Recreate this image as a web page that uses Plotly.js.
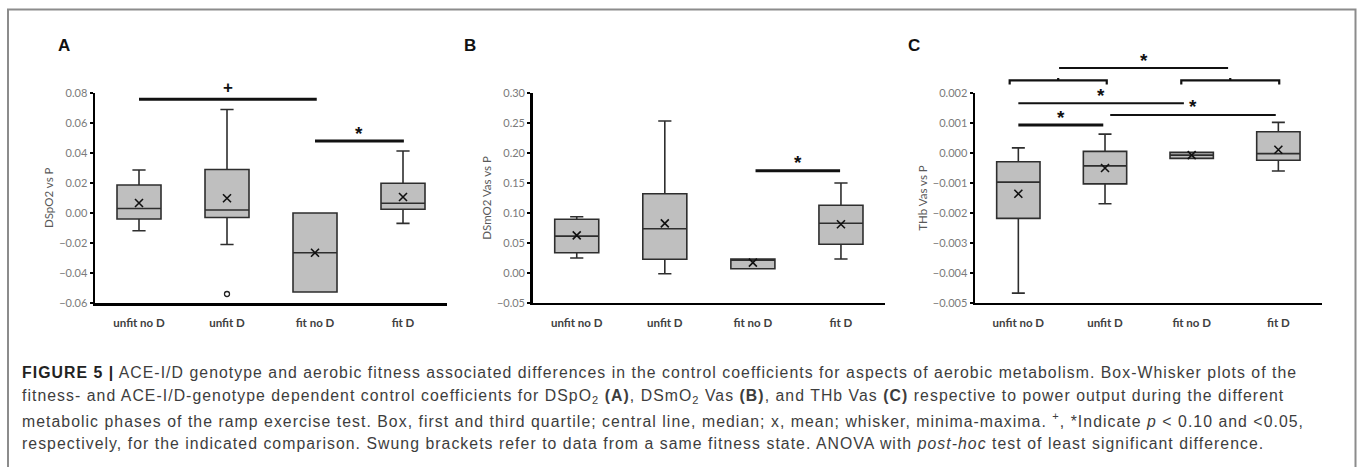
<!DOCTYPE html>
<html>
<head>
<meta charset="utf-8">
<script src="https://cdn.plot.ly/plotly-3.0.1.min.js"></script>
<style>html,body{margin:0;padding:0;background:#fff;}#chart{width:1358px;height:467px;}</style>
</head>
<body>
<div id="chart"></div>
<script>
// ---------------- data ----------------
const categories = ['unfit no D', 'unfit D', 'fit no D', 'fit D'];

// Panel A: DSpO2 vs P
const minA  = [-0.0118, -0.0210, -0.0527, -0.0069];
const q1A   = [-0.0040, -0.0030, -0.0527,  0.0025];
const medA  = [ 0.0030,  0.0020, -0.0265,  0.0065];
const q3A   = [ 0.0187,  0.0290,  0.0000,  0.0198];
const maxA  = [ 0.0287,  0.0690,  0.0000,  0.0413];
const meanA = [ 0.0067,  0.0098, -0.0265,  0.0107];
const outlierCatA = ['unfit D'];
const outlierValA = [-0.0540];

// Panel B: DSmO2 Vas vs P
const minB  = [0.0245, -0.0017, 0.0067, 0.0228];
const q1B   = [0.0333,  0.0223, 0.0067, 0.0473];
const medB  = [0.0610,  0.0733, 0.0210, 0.0823];
const q3B   = [0.0890,  0.1317, 0.0228, 0.1123];
const maxB  = [0.0933,  0.2528, 0.0228, 0.1495];
const meanB = [0.0623,  0.0823, 0.0167, 0.0807];

// Panel C: THb Vas vs P
const minC  = [-0.00468, -0.00170, -0.00019, -0.00061];
const q1C   = [-0.00219, -0.00104, -0.00019, -0.00025];
const medC  = [-0.00098, -0.00044, -0.00008, -0.00003];
const q3C   = [-0.00030,  0.000045, 0.00001,  0.00070];
const maxC  = [ 0.00016,  0.00062,  0.00001,  0.00101];
const meanC = [-0.00137, -0.00051, -0.00008,  0.00010];

// y-axis ticks
const ticksA = [-0.06, -0.04, -0.02, 0.00, 0.02, 0.04, 0.06, 0.08];
const ticksB = [-0.05, 0.00, 0.05, 0.10, 0.15, 0.20, 0.25, 0.30];
const ticksC = [-0.005, -0.004, -0.003, -0.002, -0.001, 0.000, 0.001, 0.002];

// significance comparisons (category index from/to, level, label, line width)
const sigFromA = [0, 2];   const sigToA = [2.02, 3.01]; const sigYA = [0.0758, 0.0480]; const sigLabA = ['+', '*']; const sigWA = [3, 3];
const sigFromB = [2.03];   const sigToB = [2.99];       const sigYB = [0.170];          const sigLabB = ['*'];      const sigWB = [3];
const sigFromC = [0.47, 0, 1.06, 0]; const sigToC = [2.42, 1.91, 2.97, 0.98];
const sigYC = [0.00282, 0.00165, 0.00126, 0.00092]; const sigLabC = ['*', '*', '*', '*']; const sigWC = [2, 2, 2, 3];
const bracketFromC = [-0.1, 1.88]; const bracketToC = [1.02, 3.01]; const bracketYC = [0.00241, 0.00241];

const yTitles = ['DSpO2 vs P', 'DSmO2 Vas vs P', 'THb Vas vs P'];
const panelLetters = ['A', 'B', 'C'];

const captionLines = [
  '<b style="color:#222">FIGURE 5 |</b> ACE-I/D genotype and aerobic fitness associated differences in the control coefficients for aspects of aerobic metabolism. Box-Whisker plots of the',
  'fitness- and ACE-I/D-genotype dependent control coefficients for DSpO<sub>2</sub> <b>(A)</b>, DSmO<sub>2</sub> Vas <b>(B)</b>, and THb Vas <b>(C)</b> respective to power output during the different',
  'metabolic phases of the ramp exercise test. Box, first and third quartile; central line, median; x, mean; whisker, minima-maxima. <sup>+</sup>, *Indicate <i>p</i> &lt; 0.10 and &lt;0.05,',
  'respectively, for the indicated comparison. Swung brackets refer to data from a same fitness state. ANOVA with <i>post-hoc</i> test of least significant difference.'
];

// ---------------- layout helpers (pixels -> paper) ----------------
const W = 1358, H = 467;
const px = v => v / W;
const py = v => 1 - v / H;

const panels = [
  {xl: 95,    xr: 447,    yt: 93,   yb: 303,   range: [-0.06, 0.08],   ticks: ticksA, fmt: '.2f', titleX: 48,  letterX: 64},
  {xl: 532.7, xr: 885,    yt: 92.7, yb: 302.7, range: [-0.05, 0.30],   ticks: ticksB, fmt: '.2f', titleX: 487, letterX: 470},
  {xl: 975,   xr: 1321.7, yt: 92.7, yb: 302.7, range: [-0.005, 0.002], ticks: ticksC, fmt: '.3f', titleX: 923, letterX: 914}
];
// data -> pixel conversions matching the axes above (same linear scale the axes use)
const catPx = (p, idx) => p.xl + (idx + 0.5) * (p.xr - p.xl) / categories.length;
const valPx = (p, v) => p.yb - (v - p.range[0]) / (p.range[1] - p.range[0]) * (p.yb - p.yt);

const boxFill = '#bfbfbf', boxLine = '#2e2e2e';
const stats = [
  {mn: minA, q1: q1A, md: medA, q3: q3A, mx: maxA, mean: meanA},
  {mn: minB, q1: q1B, md: medB, q3: q3B, mx: maxB, mean: meanB},
  {mn: minC, q1: q1C, md: medC, q3: q3C, mx: maxC, mean: meanC}
];

const traces = [];
const layout = {
  width: W, height: H,
  margin: {l: 0, r: 0, t: 0, b: 0},
  paper_bgcolor: '#ffffff', plot_bgcolor: 'rgba(0,0,0,0)',
  showlegend: false,
  font: {family: 'Lato, "Open Sans", sans-serif'},
  shapes: [], annotations: []
};

stats.forEach((s, i) => {
  const n = i + 1;
  const xa = 'x' + (n === 1 ? '' : n), ya = 'y' + (n === 1 ? '' : n);
  traces.push({
    type: 'box', x: categories, q1: s.q1, median: s.md, q3: s.q3,
    lowerfence: s.mn, upperfence: s.mx, boxpoints: false,
    width: 0.5, whiskerwidth: 0.3,
    fillcolor: boxFill, line: {color: boxLine, width: 1.6},
    xaxis: xa, yaxis: ya, hoverinfo: 'skip'
  });
  traces.push({
    type: 'scatter', mode: 'markers', x: categories, y: s.mean,
    marker: {symbol: 'x-thin-open', size: 8, color: '#111', line: {color: '#111', width: 1.6}},
    xaxis: xa, yaxis: ya, hoverinfo: 'skip', cliponaxis: false
  });
  const p = panels[i];
  const axKey = n === 1 ? '' : String(n);
  layout['xaxis' + axKey] = {
    domain: [px(p.xl), px(p.xr)], anchor: ya,
    type: 'category', categoryorder: 'array', categoryarray: categories,
    range: [-0.5, 3.5], showline: true, linecolor: '#000', linewidth: 2.5,
    ticks: '', showgrid: false, zeroline: false, fixedrange: true,
    tickfont: {family: 'Lato, sans-serif', size: 11.5, color: '#404040', weight: 'bold'},
    ticklabelstandoff: 8
  };
  layout['yaxis' + axKey] = {
    domain: [py(p.yb), py(p.yt)], anchor: xa,
    range: p.range, tickvals: p.ticks, tickformat: p.fmt,
    showline: true, linecolor: '#000', linewidth: 2.5,
    ticks: 'outside', ticklen: 3, tickwidth: 2, tickcolor: '#000',
    showgrid: false, zeroline: false, fixedrange: true,
    tickfont: {family: 'Lato, sans-serif', size: 11, color: '#7a7a7a'}
  };
  layout.annotations.push({
    xref: 'paper', yref: 'paper', x: px(p.titleX), y: py((p.yt + p.yb) / 2),
    text: yTitles[i], textangle: -90, showarrow: false,
    font: {family: 'Lato, sans-serif', size: 11.5, color: '#595959'},
    xanchor: 'center', yanchor: 'middle'
  });
  layout.annotations.push({
    xref: 'paper', yref: 'paper', x: px(p.letterX), y: py(45),
    text: '<b>' + panelLetters[i] + '</b>', showarrow: false,
    font: {family: '"Liberation Sans", Arial, sans-serif', size: 17, color: '#111'},
    xanchor: 'center', yanchor: 'middle'
  });
});

// outlier
traces.push({
  type: 'scatter', mode: 'markers', x: outlierCatA, y: outlierValA,
  marker: {symbol: 'circle-open', size: 5, color: '#222', line: {color: '#222', width: 1.3}},
  xaxis: 'x', yaxis: 'y', hoverinfo: 'skip'
});

// significance bars (drawn in paper space so they may sit above the axis range)
function addSig(p, from, to, ys, labs, widths) {
  from.forEach((f, k) => {
    const x0 = catPx(p, f), x1 = catPx(p, to[k]), yy = valPx(p, ys[k]);
    layout.shapes.push({type: 'line', xref: 'paper', yref: 'paper',
      x0: px(x0), x1: px(x1), y0: py(yy), y1: py(yy),
      line: {color: '#111', width: widths[k]}});
    const plus = labs[k] === '+';
    layout.annotations.push({xref: 'paper', yref: 'paper', x: px((x0 + x1) / 2),
      y: py(yy - (plus ? 12 : 8)), text: plus ? '<b>+</b>' : '<b>*</b>',
      showarrow: false, xanchor: 'center', yanchor: 'middle',
      font: {family: '"Liberation Sans", Arial, sans-serif', size: plus ? 17 : 19, color: '#111'}});
  });
}
addSig(panels[0], sigFromA, sigToA, sigYA, sigLabA, sigWA);
addSig(panels[1], sigFromB, sigToB, sigYB, sigLabB, sigWB);
addSig(panels[2], sigFromC, sigToC, sigYC, sigLabC, sigWC);

// swung brackets in C
bracketFromC.forEach((f, k) => {
  const p = panels[2];
  const x0 = px(catPx(p, f)), x1 = px(catPx(p, bracketToC[k])), xm = (x0 + x1) / 2;
  const yy = valPx(p, bracketYC[k]);
  const y = py(yy), yDown = py(yy + 4), yUp = py(yy - 2.5);
  layout.shapes.push({type: 'path', xref: 'paper', yref: 'paper',
    path: `M${x0},${yDown} L${x0},${y} L${x1},${y} L${x1},${yDown} M${xm},${y} L${xm},${yUp}`,
    line: {color: '#111', width: 2.2}});
});

// frame
layout.shapes.push({type: 'rect', xref: 'paper', yref: 'paper', x0: px(8), x1: px(1355.5), y0: py(470), y1: py(9.5),
  line: {color: '#8c8c8c', width: 2}, fillcolor: 'rgba(0,0,0,0)', layer: 'below'});

// caption
const captionIdx = [];
captionLines.forEach((t, k) => {
  captionIdx.push(layout.annotations.length);
  layout.annotations.push({xref: 'paper', yref: 'paper', x: px(20), y: py(372.5 + k * 23.6),
    text: t, showarrow: false, xanchor: 'left', yanchor: 'middle', align: 'left',
    font: {family: '"Liberation Sans", Arial, sans-serif', size: 15.8, color: '#3d3d3d'}});
});
const st = document.createElement('style');
st.textContent = captionIdx.map(i => `.annotation[data-index="${i}"] text{letter-spacing:1.05px;}`).join('\n');
document.head.appendChild(st);

Plotly.newPlot('chart', traces, layout, {displayModeBar: false, staticPlot: true});
</script>
</body>
</html>
